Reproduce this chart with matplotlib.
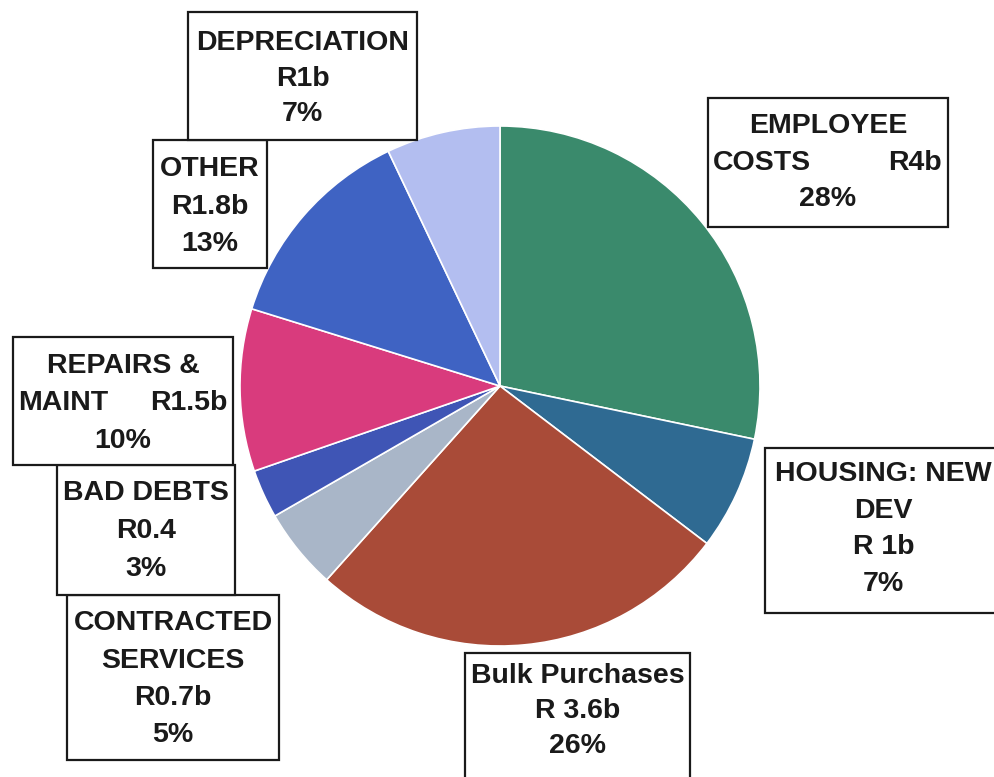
import matplotlib.pyplot as plt
from matplotlib.patches import Rectangle

plt.rcParams['font.family'] = ['Liberation Sans', 'DejaVu Sans']

# data, clockwise from 12 o'clock
categories = ['EMPLOYEE COSTS', 'HOUSING: NEW DEV', 'Bulk Purchases', 'CONTRACTED SERVICES',
              'BAD DEBTS', 'REPAIRS & MAINT', 'OTHER', 'DEPRECIATION']
amounts = ['R4b', 'R 1b', 'R 3.6b', 'R0.7b', 'R0.4', 'R1.5b', 'R1.8b', 'R1b']
percents = [28, 7, 26, 5, 3, 10, 13, 7]
colors = ['#3A8A6C', '#2F6A92', '#A94B38', '#A9B6C8', '#3F55B5', '#D93B7D', '#3F63C3', '#B3BEF0']

# how each label box is written (a tuple = split left/right)
label_lines = [
    ['EMPLOYEE', ('COSTS', 'R4b'), '28%'],
    ['HOUSING: NEW', 'DEV', 'R 1b', '7%'],
    ['Bulk Purchases', 'R 3.6b', '26%'],
    ['CONTRACTED', 'SERVICES', 'R0.7b', '5%'],
    ['BAD DEBTS', 'R0.4', '3%'],
    ['REPAIRS &', ('MAINT', 'R1.5b'), '10%'],
    ['OTHER', 'R1.8b', '13%'],
    ['DEPRECIATION', 'R1b', '7%'],
]

# box layout in pixels (x0, y0, x1, y1, first line y, line step)
boxes = [
    (708, 98, 948, 227, 126, 36.5),
    (765, 448, 1002, 613, 474, 36.7),
    (465, 653, 690, 790, 676, 35),
    (67, 595, 279, 760, 623, 37.5),
    (57, 465, 235, 595, 493, 38),
    (13, 337, 233, 465, 366, 37.5),
    (153, 140, 267, 268, 169, 37.5),
    (188, 12, 417, 140, 43, 35.5),
]

W, H = 995, 777
fig = plt.figure(figsize=(W / 100, H / 100), dpi=100)

cx, cy, r = 500, 386, 260
ax = fig.add_axes([(cx - r) / W, (H - cy - r) / H, 2 * r / W, 2 * r / H])
ax.pie(percents, colors=colors, startangle=90, counterclock=False,
       wedgeprops=dict(edgecolor='white', linewidth=1.2))
ax.set_xlim(-1, 1)
ax.set_ylim(-1, 1)
ax.set_aspect('equal')
ax.axis('off')

ov = fig.add_axes([0, 0, 1, 1])
ov.set_xlim(0, W)
ov.set_ylim(H, 0)
ov.axis('off')

fs = 20.5
for lines, (x0, y0, x1, y1, ty, step) in zip(label_lines, boxes):
    ov.add_patch(Rectangle((x0, y0), x1 - x0, y1 - y0, facecolor='white',
                           edgecolor='#1a1a1a', linewidth=1.6, clip_on=False))
    xm = (x0 + x1) / 2
    for i, line in enumerate(lines):
        y = ty + i * step
        if isinstance(line, tuple):
            ov.text(x0 + 5, y, line[0], ha='left', va='center', fontsize=fs,
                    fontweight='bold', color='#1a1a1a')
            ov.text(x1 - 6, y, line[1], ha='right', va='center', fontsize=fs,
                    fontweight='bold', color='#1a1a1a')
        else:
            ov.text(xm, y, line, ha='center', va='center', fontsize=fs,
                    fontweight='bold', color='#1a1a1a')

fig.savefig('out.png', dpi=100, facecolor='white')
